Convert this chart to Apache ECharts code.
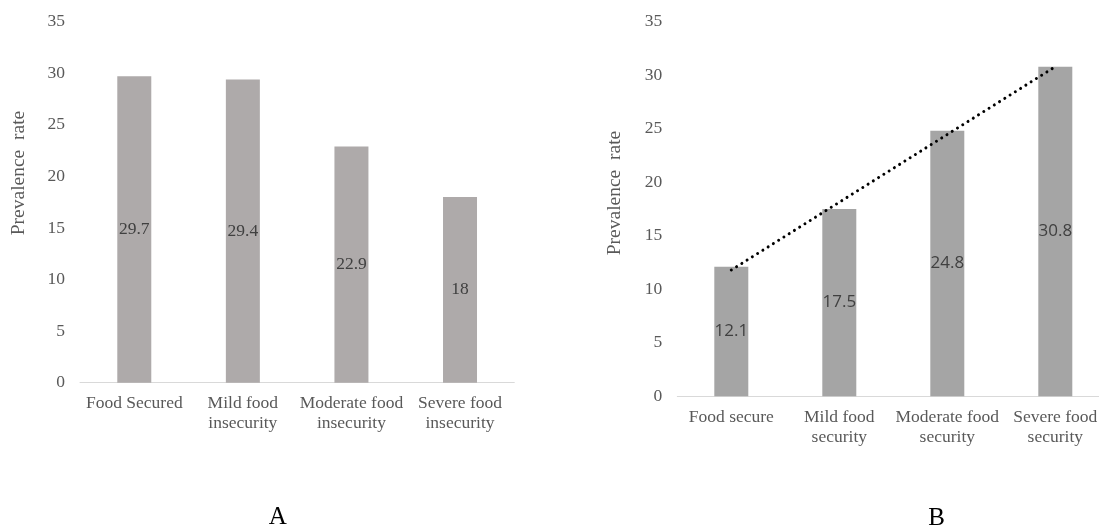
<!DOCTYPE html>
<html>
<head>
<meta charset="utf-8">
<script src="https://cdn.jsdelivr.net/npm/echarts@6/dist/echarts.min.js"></script>
<style>
html,body{margin:0;padding:0;background:#fff;}
#chart{width:1099px;height:525px;}
</style>
</head>
<body>
<div id="chart"></div>
<script>
// ---- Data ----
const categoriesA = ['Food Secured', 'Mild food\ninsecurity', 'Moderate food\ninsecurity', 'Severe food\ninsecurity'];
const valuesA = [29.7, 29.4, 22.9, 18];
const categoriesB = ['Food secure', 'Mild food\nsecurity', 'Moderate food\nsecurity', 'Severe food\nsecurity'];
const valuesB = [12.1, 17.5, 24.8, 30.8];
// linear trendline (start and end points)
const trendB = [11.8, null, null, 30.8];
const yTicks = { min: 0, max: 35, interval: 5 };
const yTitle = 'Prevalence  rate';
const panelLabels = ['A', 'B'];

const serif = '"Liberation Serif", "Times New Roman", serif';
const tickColor = '#595959';

function yAxisCfg(gridIndex) {
  return {
    type: 'value', gridIndex: gridIndex,
    min: yTicks.min, max: yTicks.max, interval: yTicks.interval,
    axisLine: { show: false }, axisTick: { show: false },
    splitLine: { show: false },
    axisLabel: { color: tickColor, fontFamily: serif, fontSize: 17.5, margin: 15 }
  };
}
function xAxisCfg(gridIndex, cats) {
  return {
    type: 'category', gridIndex: gridIndex, data: cats,
    axisLine: { show: true, lineStyle: { color: '#D9D9D9', width: 1 } },
    axisTick: { show: false },
    axisLabel: { color: tickColor, fontFamily: serif, fontSize: 17.5, lineHeight: 20, margin: 11, interval: 0 }
  };
}

const chart = echarts.init(document.getElementById('chart'), null, { renderer: 'canvas' });
chart.setOption({
  animation: false,
  backgroundColor: '#ffffff',
  grid: [
    { left: 80, top: 21.7, width: 434.3, height: 361, containLabel: false, outerBoundsMode: 'none' },
    { left: 677.3, top: 21.7, width: 432, height: 374.6, containLabel: false, outerBoundsMode: 'none' }
  ],
  xAxis: [xAxisCfg(0, categoriesA), xAxisCfg(1, categoriesB)],
  yAxis: [yAxisCfg(0), yAxisCfg(1)],
  series: [
    {
      type: 'bar', xAxisIndex: 0, yAxisIndex: 0, data: valuesA, barWidth: 34,
      itemStyle: { color: '#AEAAAA' },
      label: { show: true, position: 'inside', color: '#404040', fontFamily: serif, fontSize: 17.5 }
    },
    {
      type: 'bar', xAxisIndex: 1, yAxisIndex: 1, data: valuesB, barWidth: 34,
      itemStyle: { color: '#A5A5A5' },
      label: { show: true, position: 'inside', color: '#404040', fontFamily: '"Open Sans", "Noto Sans", sans-serif', fontSize: 17 }
    },
    {
      type: 'line', xAxisIndex: 1, yAxisIndex: 1, data: trendB, connectNulls: true,
      symbol: 'none', z: 5,
      lineStyle: { color: '#000000', width: 3, type: [0.01, 6.2], cap: 'round' }
    }
  ],
  graphic: [
    { type: 'text', x: 18.5, y: 173, rotation: Math.PI / 2,
      style: { text: yTitle, fill: tickColor, font: '19.5px ' + serif, align: 'center', verticalAlign: 'middle' } },
    { type: 'text', x: 615, y: 193, rotation: Math.PI / 2,
      style: { text: yTitle, fill: tickColor, font: '19.5px ' + serif, align: 'center', verticalAlign: 'middle' } },
    { type: 'text', x: 277.7, y: 517, style: { text: panelLabels[0], fill: '#000', font: '25px ' + serif, align: 'center', verticalAlign: 'middle' } },
    { type: 'text', x: 936.7, y: 518, style: { text: panelLabels[1], fill: '#000', font: '25px ' + serif, align: 'center', verticalAlign: 'middle' } }
  ]
});
</script>
</body>
</html>
